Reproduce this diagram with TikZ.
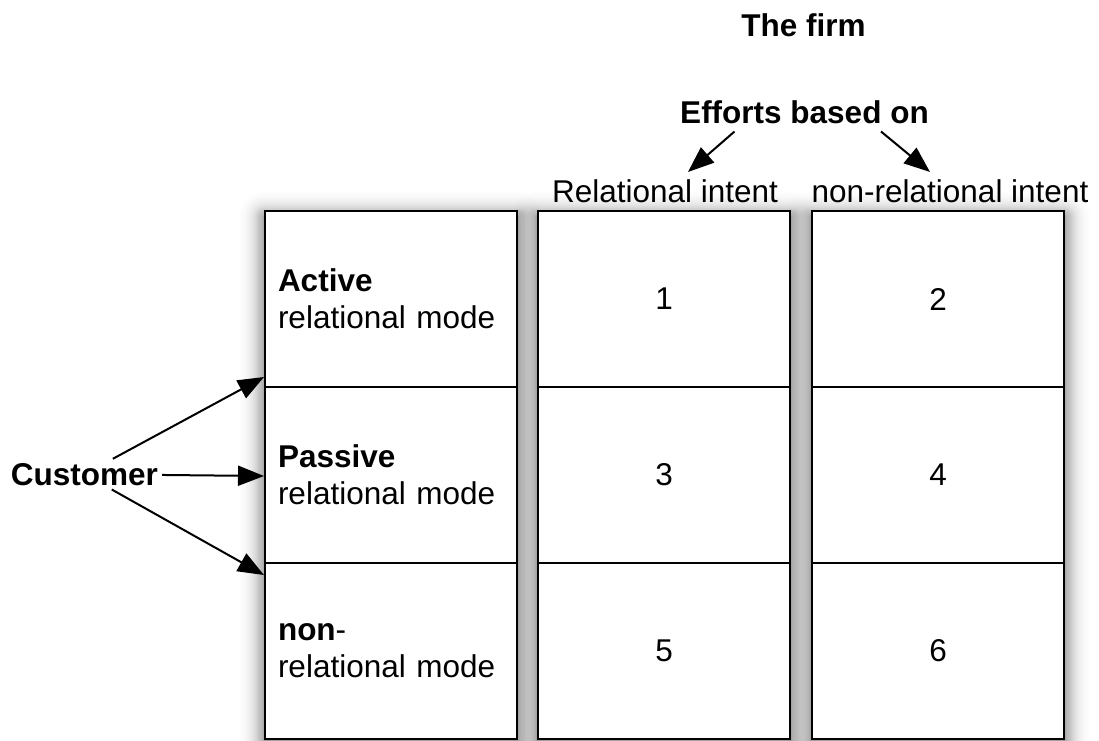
\documentclass[tikz,border=0pt]{standalone}
\usepackage{fontspec}
\setmainfont{Liberation Sans}
\usetikzlibrary{arrows.meta,calc}
\begin{document}
\begin{tikzpicture}[x=1pt,y=-1pt,
  txt/.style={font={\fontsize{31.5}{37}\selectfont}, inner sep=0pt},
  bold/.style={font={\fontsize{31.5}{37}\selectfont\bfseries}, inner sep=0pt},
  column/.style={fill=white, minimum width=252pt, minimum height=528pt, inner sep=0pt},
  cell/.style={txt, draw, line width=2.2pt, minimum width=252pt, minimum height=176pt},
  modecell/.style={cell, text width=226pt, align=left},
  link/.style={line width=2pt, -{Triangle[length=26pt,width=20pt]}},
]
\useasboundingbox (0,0) rectangle (1099,740);

% soft drop shadow under each column: stacked faint layers, fading outwards
\foreach \cx in {265,538,812} {
  \foreach \k [evaluate=\k as \op using {0.05*exp(-(\k-1)/9)}] in {1,...,26}
    \fill[black, fill opacity=\op, rounded corners=\k pt]
      (\cx-\k, 217-\k) rectangle (\cx+252+\k, 745+\k);
}

% white column backgrounds
\node[column] (bg1) at (391,475) {};
\node[column] (bg2) at (664,475) {};
\node[column] (bg3) at (938,475) {};

% customer modes (first column)
\node[modecell] (c11) at (391,299) {\textbf{Active}\\relational mode};
\node[modecell] (c21) at (391,475) {\textbf{Passive}\\relational mode};
\node[modecell] (c31) at (391,651) {\textbf{non}-\\relational mode};

% numbered cells
\node[cell] (c12) at (664,299) {1};
\node[cell] (c13) at (938,299) {2};
\node[cell] (c22) at (664,475) {3};
\node[cell] (c23) at (938,475) {4};
\node[cell] (c32) at (664,651) {5};
\node[cell] (c33) at (938,651) {6};

% headings
\node[bold, anchor=base] (firm) at (803.5,36) {The firm};
\node[bold, anchor=base] (eff) at (804.5,123) {Efforts based on};
\node[txt, anchor=base] (rel) at (665,202) {Relational intent};
\node[txt, anchor=base] (nonrel) at (950,202) {non-relational intent};

\draw[link] ($(eff.south)+(-70,8)$) -- ($(rel.north)+(23,-7)$);
\draw[link] ($(eff.south)+(76.5,8)$) -- ($(nonrel.north)+(-20,-7)$);

% customer arrows
\node[bold, anchor=base, inner sep=4pt] (cust) at (84.5,485) {Customer};
\coordinate (inA) at (264,377);
\coordinate (inB) at (264,476);
\coordinate (inC) at (264,575);
\draw[link] (cust) -- (inA);
\draw[link] (cust) -- (inB);
\draw[link] (cust) -- (inC);
\end{tikzpicture}
\end{document}
